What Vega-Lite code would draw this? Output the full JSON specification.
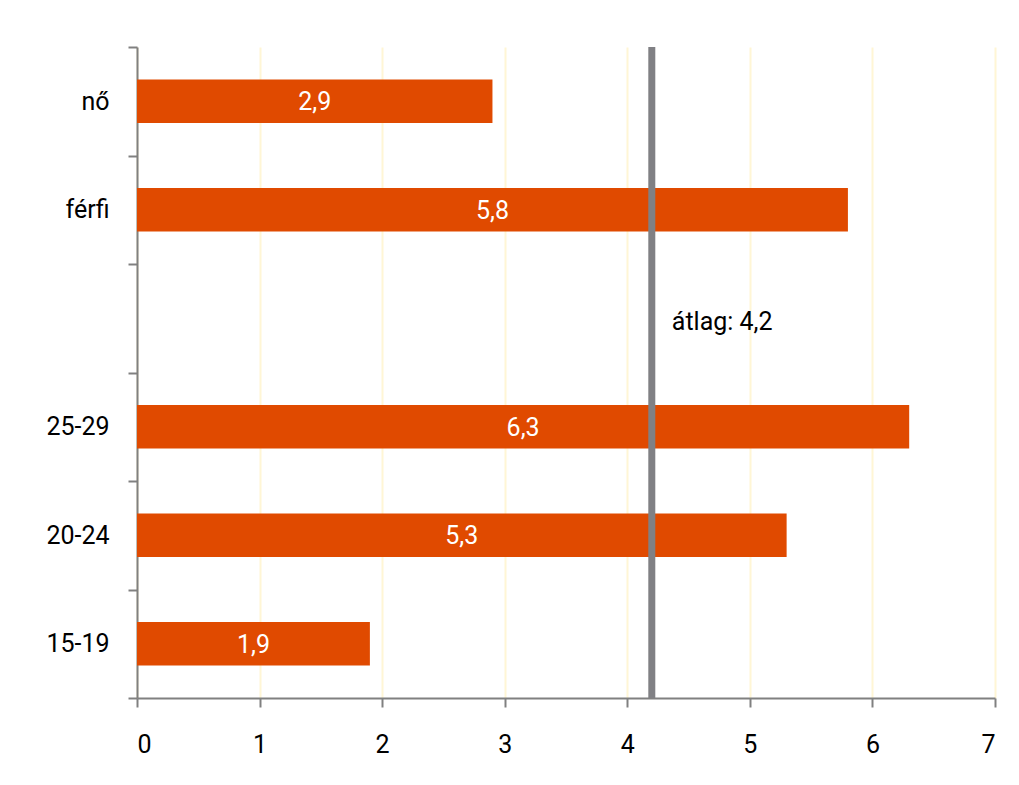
{
  "$schema": "https://vega.github.io/schema/vega-lite/v6.json",
  "width": 858,
  "height": 651,
  "autosize": {"type": "none"},
  "padding": {"left": 137, "top": 47, "right": 24, "bottom": 87},
  "background": "white",
  "config": {
    "view": {"stroke": null},
    "font": "Roboto",
    "locale": {"number": {"decimal": ",", "thousands": " ", "grouping": [3], "currency": ["", ""]}},
    "axisX": {
      "title": null,
      "labelOverlap": false,
      "domainColor": "#808080",
      "domainWidth": 2,
      "tickColor": "#808080",
      "tickWidth": 2,
      "tickSize": 9,
      "labelPadding": 25,
      "labelFontSize": 25,
      "labelFontWeight": "normal",
      "labelColor": "#000000",
      "labelFont": "Roboto",
      "grid": true,
      "gridColor": "#FFF6D5",
      "gridWidth": 2
    }
  },
  "data": {
    "values": [
      {"group": "nő", "value": 2.9},
      {"group": "férfi", "value": 5.8},
      {"group": "25-29", "value": 6.3},
      {"group": "20-24", "value": 5.3},
      {"group": "15-19", "value": 1.9}
    ]
  },
  "encoding": {
    "y": {
      "field": "group",
      "type": "nominal",
      "scale": {"domain": ["nő", "férfi", " ", "25-29", "20-24", "15-19"], "paddingInner": 0, "paddingOuter": 0},
      "axis": {
        "title": null,
        "tickBand": "extent",
        "domainColor": "#808080",
        "domainWidth": 2,
        "tickColor": "#808080",
        "tickWidth": 2,
        "tickSize": 9,
        "labelPadding": 19,
        "labelFontSize": 25,
        "labelFontWeight": "normal",
        "labelColor": "#000000",
        "labelFont": "Roboto",
        "grid": false
      }
    }
  },
  "layer": [
    {
      "mark": {"type": "bar", "color": "#E04A00", "height": {"band": 0.4}},
      "encoding": {
        "x": {
          "field": "value",
          "type": "quantitative",
          "scale": {"domain": [0, 7], "nice": false},
          "axis": {"values": [0, 1, 2, 3, 4, 5, 6, 7], "format": "d"}
        }
      }
    },
    {
      "mark": {"type": "text", "color": "white", "fontSize": 25, "fontWeight": "normal", "font": "Roboto", "align": "center", "baseline": "middle", "dy": 1},
      "encoding": {
        "x": {"field": "value", "type": "quantitative", "stack": "zero", "bandPosition": 0.5, "axis": {"values": [0, 1, 2, 3, 4, 5, 6, 7], "format": "d"}},
        "text": {"field": "value", "type": "quantitative", "format": ".1f"}
      }
    },
    {
      "data": {"values": [{"avg": 4.2}]},
      "mark": {"type": "rule", "color": "#808084", "strokeWidth": 7},
      "encoding": {
        "x": {"field": "avg", "type": "quantitative", "axis": {"values": [0, 1, 2, 3, 4, 5, 6, 7], "format": "d"}},
        "y": null
      }
    },
    {
      "data": {"values": [{"avg": 4.2, "label": "átlag: 4,2", "group": " "}]},
      "mark": {"type": "text", "color": "black", "fontSize": 25, "fontWeight": "normal", "font": "Roboto", "align": "left", "baseline": "middle", "dx": 20, "dy": 4},
      "encoding": {
        "x": {"field": "avg", "type": "quantitative", "axis": {"values": [0, 1, 2, 3, 4, 5, 6, 7], "format": "d"}},
        "text": {"field": "label", "type": "nominal"}
      }
    }
  ]
}
